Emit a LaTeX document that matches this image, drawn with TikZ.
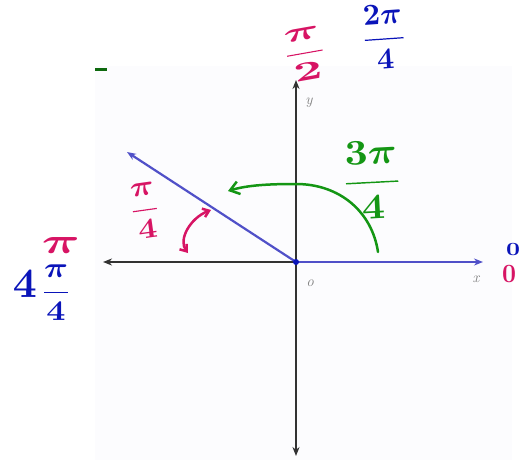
\documentclass[tikz,border=0pt]{standalone}
\usepackage{amsmath}
\usepackage{bm}
\usepackage{graphicx}
\usetikzlibrary{arrows.meta}
\definecolor{axisgray}{RGB}{50,50,50}
\definecolor{rayblue}{RGB}{80,80,200}
\definecolor{penblue}{RGB}{10,20,185}
\definecolor{penmag}{RGB}{215,20,100}
\definecolor{pengreen}{RGB}{20,150,20}
\definecolor{bggray}{RGB}{252,252,254}
\tikzset{
  axis/.style={draw=axisgray, line width=2.2pt, -{Stealth[length=9pt,width=7pt]}},
  ray/.style={draw=rayblue, line width=2.2pt, -{Stealth[length=9pt,width=7pt]}},
  lbl/.style={text=gray, font=\fontsize{15}{17}\selectfont\itshape, inner sep=0pt},
  hand/.style={inner sep=0pt},
}
% \hw{width}{height}{math}
\newcommand{\hw}[3]{\resizebox{#1pt}{#2pt}{$\bm{#3}$}}
\newcommand{\hfr}[2]{\displaystyle\frac{#1}{#2}}
\begin{document}
\begin{tikzpicture}[x=1pt,y=-1pt]
\useasboundingbox (0,0) rectangle (523,463);
\fill[bggray] (95,66) rectangle (512,460);
\draw[pengreen!70!black, line width=3pt] (95,69) -- (107,69);
\coordinate (O) at (296,262);
\coordinate (Yt) at (296,80);
\coordinate (Yb) at (296,456);
\coordinate (Xl) at (103,262);
\coordinate (Xr) at (483,262);
\coordinate (R) at (127,152);
\draw[axis] (O) -- (Yt);
\draw[axis] (O) -- (Yb);
\draw[axis] (O) -- (Xl);
\draw[ray] (O) -- (Xr);
\draw[ray] (O) -- (R);
\fill[penblue] (O) circle (3pt);
\node[lbl] (ylab) at (309,103) {y};
\node[lbl] (olab) at (310,283) {o};
\node[lbl] (xlab) at (476,279) {x};
% green arc
\coordinate (g1) at (378,252);
\coordinate (g2) at (228,191);
\draw[pengreen, line width=2.5pt, line cap=round, -{Straight Barb[length=9pt,width=13pt]}]
  (g1) .. controls (372,212) and (340,184) .. (296,184) .. controls (270,184) and (248,185) .. (g2);
% magenta double arrow
\coordinate (m1) at (188,253);
\coordinate (m2) at (211,210);
\draw[penmag, line width=2.5pt, line cap=round, {Straight Barb[length=6pt,width=9pt]}-{Straight Barb[length=6pt,width=9pt]}]
  (m1) .. controls (178,240) and (190,218) .. (m2);
% handwritten labels
\node[hand, text=penmag, rotate=10] (pi2) at (305,54) {\hw{48}{32}{\hfr{\pi}{2}}};
\node[hand, text=penblue, rotate=4] (pi24) at (384,37) {\hw{46}{42}{\hfr{2\pi}{4}}};
\node[hand, text=pengreen, rotate=3] (pi34) at (372,180) {\hw{62}{50}{\hfr{3\pi}{4}}};
\node[hand, text=penmag, rotate=8] (pi4) at (145,211) {\hw{32}{34}{\hfr{\pi}{4}}};
\node[hand, text=penmag] (pitop) at (61,245) {\hw{38}{16}{\pi}};
\node[hand, text=penblue] (four) at (25,284) {\hw{24}{27}{4}};
\node[hand, text=penblue] (pi44) at (56,293) {\hw{32}{34}{\hfr{\pi}{4}}};
\node[hand, text=penblue] (z1) at (513,249) {\hw{14}{12}{0}};
\node[hand, text=penmag] (z2) at (509,274) {\hw{14}{17}{0}};
\end{tikzpicture}
\end{document}
